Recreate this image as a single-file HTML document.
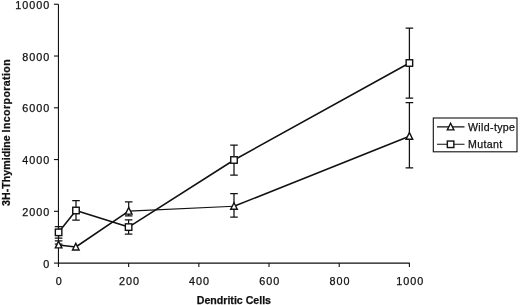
<!DOCTYPE html>
<html><head><meta charset="utf-8"><title>chart</title>
<style>
html,body{margin:0;padding:0;background:#fff;}
body{width:520px;height:305px;overflow:hidden;}
svg{display:block;}
text{font-family:"Liberation Sans",Arial,Helvetica,sans-serif;fill:#111;stroke:#111;stroke-width:0.25px;}
.t{font-size:10.8px;letter-spacing:1.0px;}
.b{font-size:10.6px;font-weight:bold;letter-spacing:0px;}
.by{font-size:10.6px;font-weight:bold;letter-spacing:0.2px;}
.l{font-size:10.6px;letter-spacing:0.35px;}
</style></head><body>
<svg width="520" height="305" viewBox="0 0 520 305">
<rect width="520" height="305" fill="#fff"/>

<g stroke="#111" stroke-width="1.1" fill="none">
<path d="M58.45 4.25V263.10H409.80"/>
<path d="M53.95 263.10H58.45"/>
<path d="M53.95 211.33H58.45"/>
<path d="M53.95 159.56H58.45"/>
<path d="M53.95 107.79H58.45"/>
<path d="M53.95 56.02H58.45"/>
<path d="M53.95 4.25H58.45"/>
<path d="M58.45 263.10V267.10"/>
<path d="M128.64 263.10V267.10"/>
<path d="M198.83 263.10V267.10"/>
<path d="M269.02 263.10V267.10"/>
<path d="M339.21 263.10V267.10"/>
<path d="M409.40 263.10V267.10"/>
</g>
<text class="t" x="50.2" y="267.80" text-anchor="end">0</text>
<text class="t" x="50.2" y="216.03" text-anchor="end">2000</text>
<text class="t" x="50.2" y="164.26" text-anchor="end">4000</text>
<text class="t" x="50.2" y="112.49" text-anchor="end">6000</text>
<text class="t" x="50.2" y="60.72" text-anchor="end">8000</text>
<text class="t" x="50.2" y="8.95" text-anchor="end">10000</text>
<text class="t" x="59.25" y="285.1" text-anchor="middle">0</text>
<text class="t" x="129.44" y="285.1" text-anchor="middle">200</text>
<text class="t" x="199.63" y="285.1" text-anchor="middle">400</text>
<text class="t" x="269.82" y="285.1" text-anchor="middle">600</text>
<text class="t" x="340.01" y="285.1" text-anchor="middle">800</text>
<text class="t" x="410.20" y="285.1" text-anchor="middle">1000</text>
<text class="b" x="233.9" y="303.5" text-anchor="middle">Dendritic Cells</text>
<text class="by" transform="translate(10.2,205.9) rotate(-90)" text-anchor="start"><tspan style="letter-spacing:0.04px">3H-Thymidine </tspan><tspan style="letter-spacing:0.4px">Incorporation</tspan></text>
<g stroke="#111" stroke-width="1.25" fill="none">
<path d="M58.60 226.55V238.20M54.80 226.55H62.40M54.80 238.20H62.40"/>
<path d="M76.00 200.50V220.20M72.20 200.50H79.80M72.20 220.20H79.80"/>
<path d="M128.60 219.80V234.10M124.80 219.80H132.40M124.80 234.10H132.40"/>
<path d="M234.00 145.00V175.00M230.20 145.00H237.80M230.20 175.00H237.80"/>
<path d="M409.40 28.00V98.00M405.60 28.00H413.20M405.60 98.00H413.20"/>
<path d="M58.60 240.90V244.00M54.80 240.90H62.40M54.80 244.00H62.40"/>
<path d="M128.70 201.90V215.80M124.90 201.90H132.50M124.90 215.80H132.50"/>
<path d="M234.00 193.50V217.20M230.20 193.50H237.80M230.20 217.20H237.80"/>
<path d="M409.40 102.50V167.80M405.60 102.50H413.20M405.60 167.80H413.20"/>
</g>
<g stroke="#111" stroke-width="1.55" fill="none" stroke-linejoin="round">
<polyline points="58.60,232.35 76.00,210.50 128.60,227.10 234.00,160.00 409.40,63.00"/>
<polyline points="58.60,244.90 75.80,247.00 128.70,211.10"/>
<polyline points="234.00,206.30 409.40,136.20"/>
<polyline stroke-width="1.15" points="128.70,211.10 234.00,206.30"/>
</g>
<g stroke="#111" stroke-width="1.4" fill="#fff">
<rect x="55.35" y="229.10" width="6.50" height="6.50"/>
<rect x="72.75" y="207.25" width="6.50" height="6.50"/>
<rect x="125.35" y="223.85" width="6.50" height="6.50"/>
<rect x="230.75" y="156.75" width="6.50" height="6.50"/>
<rect x="406.15" y="59.75" width="6.50" height="6.50"/>
<path d="M58.60 241.30L61.90 247.90H55.30Z"/>
<path d="M75.80 243.40L79.10 250.00H72.50Z"/>
<path d="M128.70 207.50L132.00 214.10H125.40Z"/>
<path d="M234.00 202.70L237.30 209.30H230.70Z"/>
<path d="M409.40 132.60L412.70 139.20H406.10Z"/>
</g>
<rect x="433.3" y="118" width="83.7" height="33.8" fill="#fff" stroke="#111" stroke-width="1.1"/>
<g stroke="#111" stroke-width="1.1" fill="none"><path d="M437 126.9H464.5M437 144.3H464.5"/></g>
<g stroke="#111" stroke-width="1.4" fill="#fff"><path d="M450.60 123.30L453.90 129.90H447.30Z"/><rect x="447.35" y="141.05" width="6.50" height="6.50"/></g>
<text class="l" x="468" y="130.7">Wild-type</text>
<text class="l" x="468" y="147.5">Mutant</text>
</svg></body></html>
